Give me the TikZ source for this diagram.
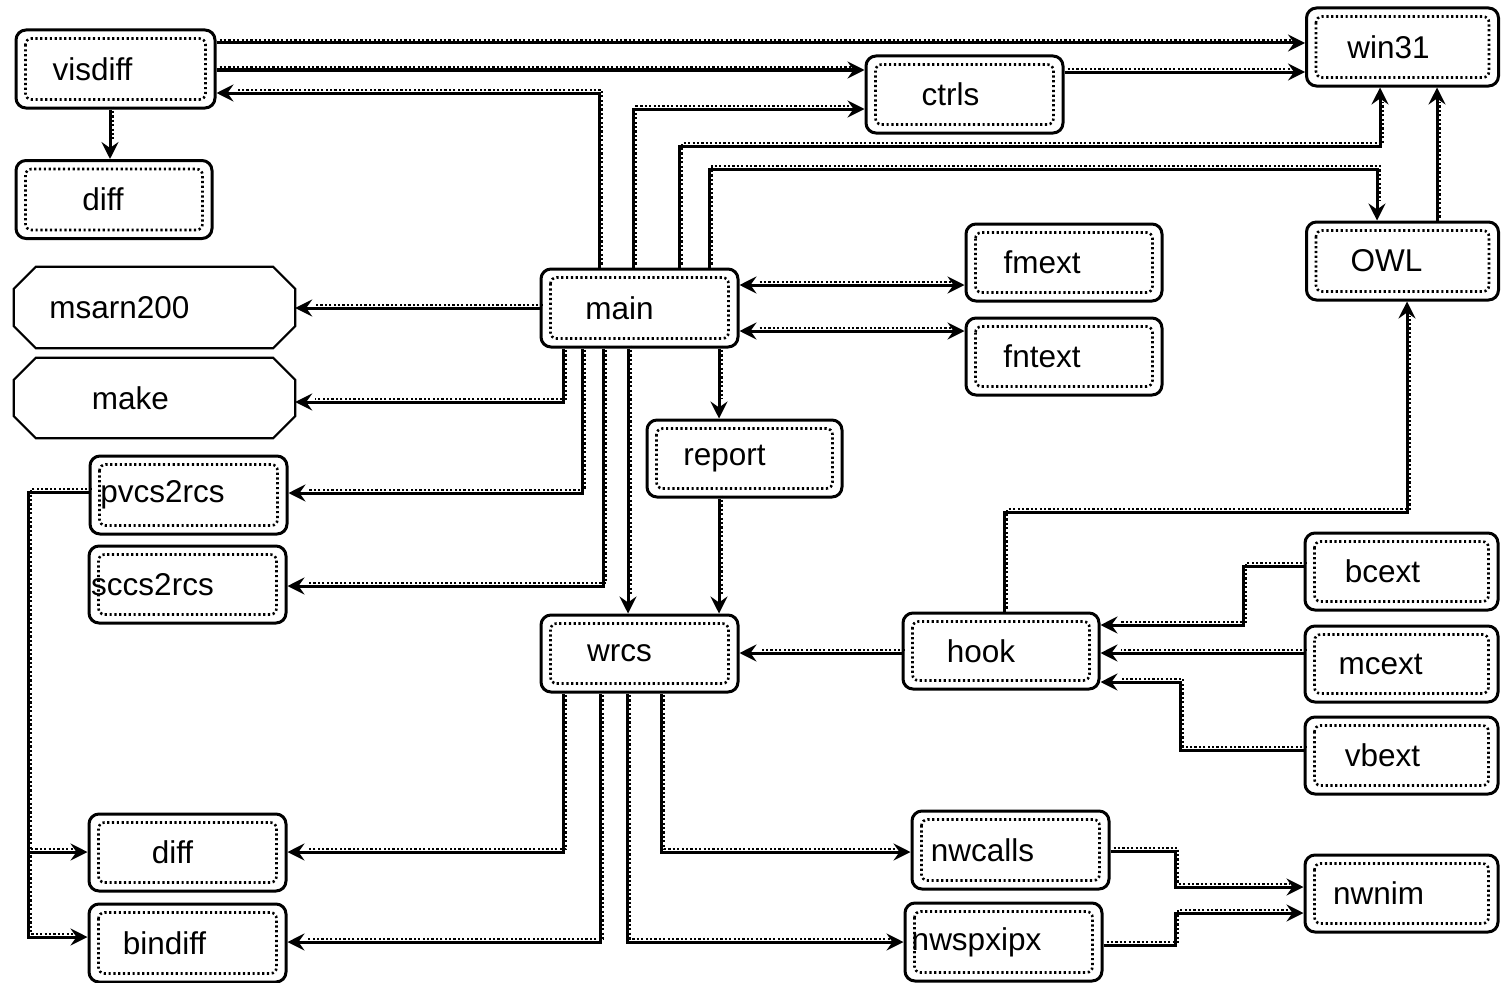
\documentclass[tikz,border=0pt]{standalone}
\usepackage{fontspec}
\setmainfont{Liberation Sans}
\usetikzlibrary{arrows.meta}

\tikzset{
  box/.style={draw, line width=3pt, rounded corners=10pt, inner sep=0pt},
  plain/.style={draw=none, inner sep=0pt},
  oct/.style={draw, line width=2.2pt, line join=miter},
  lbl/.style={font=\fontsize{31.5}{36}\selectfont, inner sep=0pt},
  innerdots/.style={line width=2.6pt, dash pattern=on 2.2pt off 2.6pt, rounded corners=6pt},
  dotpart/.style={draw, line width=2.6pt, dash pattern=on 2.2pt off 2.2pt, arrows=-,
    transform canvas={shift={(3,-3)}}},
  link/.style={line width=3pt, >={Stealth[length=17pt,width=17pt,inset=6pt]}, ->,
    postaction={dotpart, shorten >=17pt}},
  linkboth/.style={line width=3pt, >={Stealth[length=17pt,width=17pt,inset=6pt]}, <->,
    postaction={dotpart, shorten >=17pt, shorten <=17pt}},
}

\begin{document}
\begin{tikzpicture}[x=1pt, y=-1pt]
\useasboundingbox (0,0) rectangle (1501,982);

% rounded boxes
\node[box, minimum width=199, minimum height=78, label={[lbl,xshift=-23pt]center:visdiff}] (visdiff) at (115.5,69) {};
\node[box, minimum width=196, minimum height=78, label={[lbl,xshift=-11pt]center:diff}] (diff1) at (114,199.5) {};
\node[box, minimum width=197, minimum height=78, label={[lbl,xshift=-20pt]center:main}] (main) at (639.5,308) {};
\node[box, minimum width=197, minimum height=77, label={[lbl,xshift=-14pt]center:ctrls}] (ctrls) at (964.5,94.5) {};
\node[box, minimum width=192, minimum height=78, label={[lbl,xshift=-14pt]center:win31}] (win31) at (1402.5,47) {};
\node[box, minimum width=192, minimum height=78, label={[lbl,xshift=-16pt]center:OWL}] (OWL) at (1402.5,261) {};
\node[box, minimum width=196, minimum height=77, label={[lbl,xshift=-22pt]center:fmext}] (fmext) at (1064,262.5) {};
\node[box, minimum width=196, minimum height=77, label={[lbl,xshift=-22pt]center:fntext}] (fntext) at (1064,356.5) {};
\node[box, minimum width=195, minimum height=77, label={[lbl,xshift=-20pt]center:report}] (report) at (744.5,458.5) {};
\node[box, minimum width=197, minimum height=78, label={[lbl,xshift=-26pt]center:pvcs2rcs}] (pvcs) at (188.5,495) {};
\node[box, minimum width=197, minimum height=77, label={[lbl,xshift=-35pt]center:sccs2rcs}] (sccs) at (187.5,584.5) {};
\node[box, minimum width=197, minimum height=77, label={[lbl,xshift=-20pt]center:wrcs}] (wrcs) at (639.5,653.5) {};
\node[box, minimum width=196, minimum height=76, label={[lbl,xshift=-20pt]center:hook}] (hook) at (1001,651) {};
\node[box, minimum width=193, minimum height=77, label={[lbl,xshift=-19pt]center:bcext}] (bcext) at (1401.5,571.5) {};
\node[box, minimum width=193, minimum height=76, label={[lbl,xshift=-21pt]center:mcext}] (mcext) at (1401.5,664) {};
\node[box, minimum width=193, minimum height=77, label={[lbl,xshift=-19pt]center:vbext}] (vbext) at (1401.5,755.5) {};
\node[box, minimum width=197, minimum height=77, label={[lbl,xshift=-15pt]center:diff}] (diff2) at (187.5,852.5) {};
\node[box, minimum width=197, minimum height=78, label={[lbl,xshift=-23pt]center:bindiff}] (bindiff) at (187.5,943) {};
\node[box, minimum width=197, minimum height=78, label={[lbl,xshift=-28pt]center:nwcalls}] (nwcalls) at (1010.5,850) {};
\node[box, minimum width=197, minimum height=78, label={[lbl,xshift=-27pt]center:nwspxipx}] (nwspx) at (1003.5,942) {};
\node[box, minimum width=193, minimum height=77, label={[lbl,xshift=-23pt]center:nwnim}] (nwnim) at (1401.5,893.5) {};

% dotted inner frames
\foreach \n in {visdiff,diff1,main,ctrls,win31,OWL,fmext,fntext,report,pvcs,sccs,wrcs,hook,bcext,mcext,vbext,diff2,bindiff,nwcalls,nwspx,nwnim}
  \draw[innerdots] ([shift={(11,10)}]\n.north west) rectangle ([shift={(-11,-10)}]\n.south east);

% octagonal boxes
\node[plain, minimum width=281, minimum height=81, label={[lbl,xshift=-35pt]center:msarn200}] (msarn) at (154.5,307.5) {};
\node[plain, minimum width=281, minimum height=80, label={[lbl,xshift=-24pt]center:make}] (make) at (154.5,398) {};
\foreach \n in {msarn,make}
  \draw[oct] ([shift={(22,0)}]\n.north west) -- ([shift={(-22,0)}]\n.north east)
    -- ([shift={(0,22)}]\n.north east) -- ([shift={(0,-22)}]\n.south east)
    -- ([shift={(-22,0)}]\n.south east) -- ([shift={(22,0)}]\n.south west)
    -- ([shift={(0,-22)}]\n.south west) -- ([shift={(0,22)}]\n.north west) -- cycle;

% connectors from visdiff and ctrls
\draw[link] (visdiff.east |- 0,43) -- (win31.west |- 0,43);
\draw[link] (visdiff.east |- 0,70) -- (ctrls.west |- 0,70);
\draw[link] (visdiff.south -| 110,0) -- (diff1.north -| 110,0);
\draw[link] (ctrls.east |- 0,72) -- (win31.west |- 0,72);

% connectors leaving main upwards
\draw[link] (main.north -| 599,0) |- (visdiff.east |- 0,93);
\draw[link] (main.north -| 633,0) |- (ctrls.west |- 0,109);
\draw[link] (main.north -| 679,0) |- (1380,146) -- (win31.south -| 1380,0);
\draw[link] (main.north -| 709,0) |- (1377,169) -- (OWL.north -| 1377,0);
\draw[link] (OWL.north -| 1437,0) -- (win31.south -| 1437,0);

% connectors at the sides of main
\draw[link] (main.west |- 0,308) -- (msarn.east |- 0,308);
\draw[linkboth] (main.east |- 0,285) -- (fmext.west |- 0,285);
\draw[linkboth] (main.east |- 0,331) -- (fntext.west |- 0,331);

% connectors leaving main downwards
\draw[link] (main.south -| 563,0) |- (make.east |- 0,402);
\draw[link] (main.south -| 582,0) |- (pvcs.east |- 0,493);
\draw[link] (main.south -| 603,0) |- (sccs.east |- 0,586);
\draw[link] (main.south -| 628,0) -- (wrcs.north -| 628,0);
\draw[link] (main.south -| 719,0) -- (report.north -| 719,0);
\draw[link] (report.south -| 719,0) -- (wrcs.north -| 719,0);

% hook and its extensions
\draw[link] (hook.west |- 0,653) -- (wrcs.east |- 0,653);
\draw[link] (hook.north -| 1004,0) |- (1407,512) -- (OWL.south -| 1407,0);
\draw[link] (bcext.west |- 0,566) -| (1243,625) -- (hook.east |- 0,625);
\draw[link] (mcext.west |- 0,653) -- (hook.east |- 0,653);
\draw[link] (vbext.west |- 0,750) -| (1180,682) -- (hook.east |- 0,682);

% pvcs2rcs to the diff tools
\coordinate (split) at (28,852);
\draw[link] (pvcs.west |- 0,492) -| (28,937) -- (bindiff.west |- 0,937);
\draw[link] (split) -- (diff2.west |- split);

% connectors leaving wrcs downwards
\draw[link] (wrcs.south -| 563,0) |- (diff2.east |- 0,852);
\draw[link] (wrcs.south -| 600,0) |- (bindiff.east |- 0,942);
\draw[link] (wrcs.south -| 627,0) |- (nwspx.west |- 0,942);
\draw[link] (wrcs.south -| 661,0) |- (nwcalls.west |- 0,852);

% netware libraries
\draw[link] (nwcalls.east |- 0,851) -| (1175,887) -- (nwnim.west |- 0,887);
\draw[link] (nwspx.east |- 0,945) -| (1175,913) -- (nwnim.west |- 0,913);
\end{tikzpicture}
\end{document}
